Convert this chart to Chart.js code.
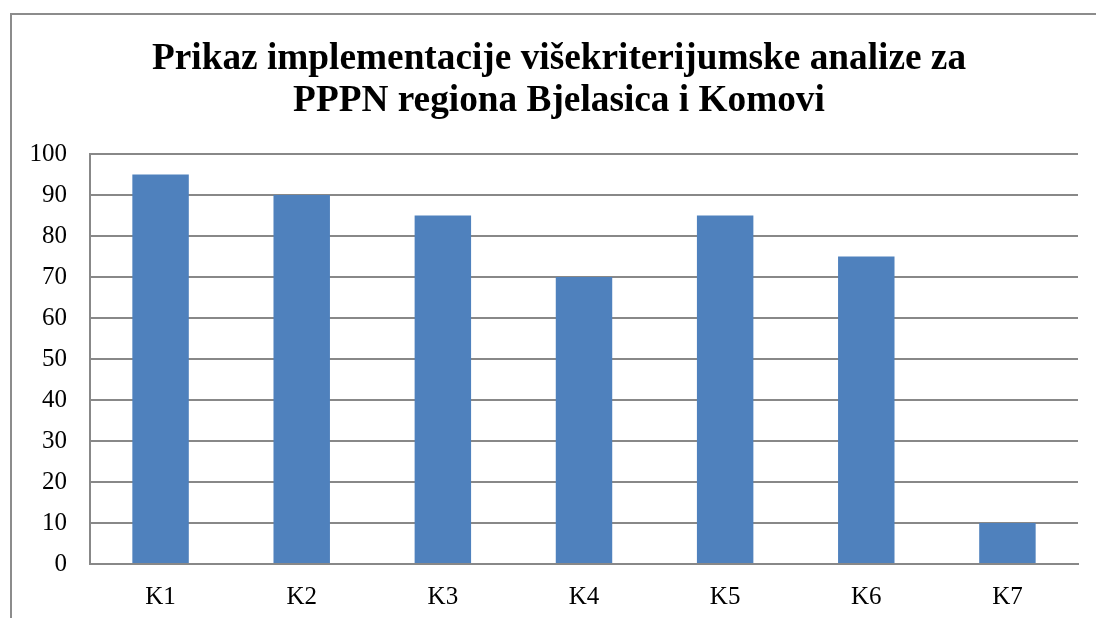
<!DOCTYPE html>
<html>
<head>
<meta charset="utf-8">
<script src="https://cdn.jsdelivr.net/npm/chart.js@4.4.1/dist/chart.umd.min.js"></script>
<style>
  html, body { margin: 0; padding: 0; background: #ffffff; overflow: hidden; }
  #wrap { position: absolute; left: 0; top: 0; width: 1096px; height: 618px; }
</style>
</head>
<body>
<div id="wrap"><canvas id="chart" width="1096" height="618"></canvas></div>
<script>
const categories = ['K1', 'K2', 'K3', 'K4', 'K5', 'K6', 'K7'];
const scores = [95, 90, 85, 70, 85, 75, 10];
const titleLines = ['Prikaz implementacije višekriterijumske analize za', 'PPPN regiona Bjelasica i Komovi'];

const FONT = "'Liberation Serif', 'Times New Roman', serif";
const GRID = '#888888';

// Outer frame of the chart object (extends past the right and bottom edges)
// and the two-line title centred on that frame.
const framePlugin = {
  id: 'frame',
  beforeDraw(chart) {
    const ctx = chart.ctx;
    ctx.save();
    ctx.fillStyle = '#ffffff';
    ctx.fillRect(0, 0, chart.width, chart.height);
    ctx.strokeStyle = '#8c8c8c';
    ctx.lineWidth = 2;
    ctx.strokeRect(11, 14, chart.width + 20, chart.height + 20);
    ctx.restore();
  },
  afterDraw(chart) {
    const ctx = chart.ctx;
    ctx.save();
    ctx.fillStyle = '#000000';
    ctx.font = "bold 37.3px " + FONT;
    ctx.textAlign = 'center';
    ctx.textBaseline = 'middle';
    const cx = 559;
    titleLines.forEach((line, i) => ctx.fillText(line, cx, 59 + i * 42));
    ctx.restore();
  }
};

new Chart(document.getElementById('chart'), {
  type: 'bar',
  data: {
    labels: categories,
    datasets: [{
      data: scores,
      backgroundColor: '#4f81bd',
      borderWidth: 0,
      barPercentage: 0.4,
      categoryPercentage: 1.0
    }]
  },
  plugins: [framePlugin],
  options: {
    responsive: false,
    animation: false,
    layout: { padding: { left: 0, right: 18, top: 154, bottom: 0 } },
    plugins: {
      legend: { display: false },
      tooltip: { enabled: false },
      title: { display: false }
    },
    scales: {
      x: {
        grid: { display: false, drawTicks: false },
        border: { display: true, color: GRID, width: 2 },
        ticks: { color: '#000000', font: { family: FONT, size: 25 }, padding: 18 },
        afterFit(scale) { scale.height = 618 - 564; }
      },
      y: {
        min: 0,
        max: 100,
        ticks: { stepSize: 10, color: '#000000', font: { family: FONT, size: 25 }, padding: 23 },
        grid: { color: GRID, lineWidth: 2, drawTicks: false },
        border: { display: true, color: GRID, width: 2 },
        afterFit(scale) { scale.width = 90; }
      }
    }
  }
});
</script>
</body>
</html>
